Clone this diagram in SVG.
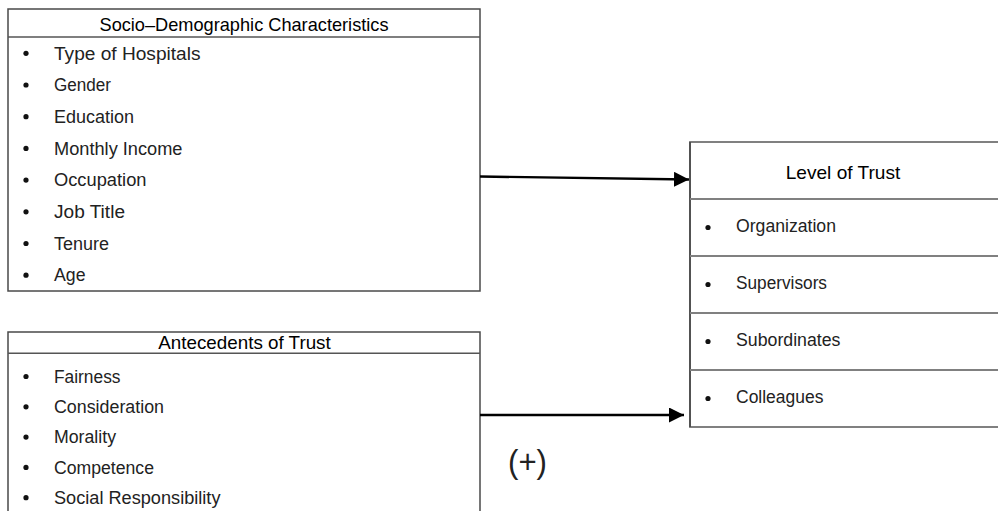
<svg xmlns="http://www.w3.org/2000/svg" width="998" height="511" viewBox="0 0 998 511">
<defs>
<style>
.box{fill:#fff;stroke:#4a4a4a;stroke-width:1.5}
.sep{stroke:#555;stroke-width:1.5}
.sep3{stroke:#808080;stroke-width:1.8}
.hd{font-family:"Liberation Sans",Arial,sans-serif;font-size:19px;fill:#000;text-anchor:middle}
.it{font-family:"Liberation Sans",Arial,sans-serif;font-size:17.5px;fill:#222}
.bl{fill:#111}
.conn{stroke:#000;stroke-width:2.4;fill:none}
</style>
<marker id="ah" markerUnits="userSpaceOnUse" markerWidth="16" markerHeight="16" refX="15" refY="7.5" orient="auto">
<path d="M0,0 L15,7.5 L0,15 z" fill="#000"/>
</marker>
</defs>
<rect width="998" height="511" fill="#fff"/>

<g id="socio">
<rect class="box" x="8" y="9" width="472" height="282"/>
<line class="sep" x1="8" y1="37" x2="480" y2="37"/>
<text class="hd" x="244" y="30.5" textLength="289" lengthAdjust="spacingAndGlyphs">Socio–Demographic Characteristics</text>
<circle class="bl" cx="26" cy="53.3" r="2.6"/>
<text class="it" x="54" y="59.5" textLength="146.5" lengthAdjust="spacingAndGlyphs">Type of Hospitals</text>
<circle class="bl" cx="26" cy="85" r="2.6"/>
<text class="it" x="54" y="91.2" textLength="57" lengthAdjust="spacingAndGlyphs">Gender</text>
<circle class="bl" cx="26" cy="116.7" r="2.6"/>
<text class="it" x="54" y="122.9" textLength="80" lengthAdjust="spacingAndGlyphs">Education</text>
<circle class="bl" cx="26" cy="148.4" r="2.6"/>
<text class="it" x="54" y="154.6" textLength="128.5" lengthAdjust="spacingAndGlyphs">Monthly Income</text>
<circle class="bl" cx="26" cy="180.1" r="2.6"/>
<text class="it" x="54" y="186.3" textLength="92.5" lengthAdjust="spacingAndGlyphs">Occupation</text>
<circle class="bl" cx="26" cy="211.8" r="2.6"/>
<text class="it" x="54" y="218" textLength="71" lengthAdjust="spacingAndGlyphs">Job Title</text>
<circle class="bl" cx="26" cy="243.5" r="2.6"/>
<text class="it" x="54" y="249.7" textLength="55" lengthAdjust="spacingAndGlyphs">Tenure</text>
<circle class="bl" cx="26" cy="275.2" r="2.6"/>
<text class="it" x="54" y="281.4" textLength="31.5" lengthAdjust="spacingAndGlyphs">Age</text>
</g>

<g id="antecedents">
<path class="box" d="M8,520 L8,332 L480,332 L480,520"/>
<line class="sep" x1="8" y1="353.3" x2="480" y2="353.3"/>
<text class="hd" x="244.5" y="349.3" textLength="172.5" lengthAdjust="spacingAndGlyphs">Antecedents of Trust</text>
<circle class="bl" cx="26" cy="376.5" r="2.6"/>
<text class="it" x="54" y="382.7" textLength="66.5" lengthAdjust="spacingAndGlyphs">Fairness</text>
<circle class="bl" cx="26" cy="406.8" r="2.6"/>
<text class="it" x="54" y="413" textLength="110" lengthAdjust="spacingAndGlyphs">Consideration</text>
<circle class="bl" cx="26" cy="437.1" r="2.6"/>
<text class="it" x="54" y="443.3" textLength="62" lengthAdjust="spacingAndGlyphs">Morality</text>
<circle class="bl" cx="26" cy="467.4" r="2.6"/>
<text class="it" x="54" y="473.6" textLength="100" lengthAdjust="spacingAndGlyphs">Competence</text>
<circle class="bl" cx="26" cy="497.7" r="2.6"/>
<text class="it" x="54" y="503.9" textLength="166.5" lengthAdjust="spacingAndGlyphs">Social Responsibility</text>
</g>

<g id="level">
<path d="M1000,142 L690,142 L690,427 L1000,427" fill="#fff" stroke="#808080" stroke-width="1.8"/>
<line x1="690" y1="142" x2="690" y2="427" stroke="#333" stroke-width="1.3"/>
<line class="sep3" x1="690" y1="199" x2="1000" y2="199"/>
<line class="sep3" x1="690" y1="256" x2="1000" y2="256"/>
<line class="sep3" x1="690" y1="313" x2="1000" y2="313"/>
<line class="sep3" x1="690" y1="370" x2="1000" y2="370"/>
<text class="hd" x="843" y="179" textLength="114.5" lengthAdjust="spacingAndGlyphs">Level of Trust</text>
<circle class="bl" cx="708" cy="227.5" r="2.6"/>
<text class="it" x="736" y="231.5" textLength="100" lengthAdjust="spacingAndGlyphs">Organization</text>
<circle class="bl" cx="708" cy="284.5" r="2.6"/>
<text class="it" x="736" y="288.5" textLength="91" lengthAdjust="spacingAndGlyphs">Supervisors</text>
<circle class="bl" cx="708" cy="341.5" r="2.6"/>
<text class="it" x="736" y="345.5" textLength="104.5" lengthAdjust="spacingAndGlyphs">Subordinates</text>
<circle class="bl" cx="708" cy="398.5" r="2.6"/>
<text class="it" x="736" y="402.5" textLength="87.5" lengthAdjust="spacingAndGlyphs">Colleagues</text>
</g>

<g id="connectors">
<line class="conn" x1="480" y1="176.5" x2="689" y2="179.5" marker-end="url(#ah)"/>
<line class="conn" x1="480" y1="415" x2="684" y2="415" marker-end="url(#ah)"/>
</g>

<text x="527.5" y="473" font-family="Liberation Sans, Arial, sans-serif" font-size="34" fill="#222" text-anchor="middle" textLength="39" lengthAdjust="spacingAndGlyphs">(+)</text>
</svg>
